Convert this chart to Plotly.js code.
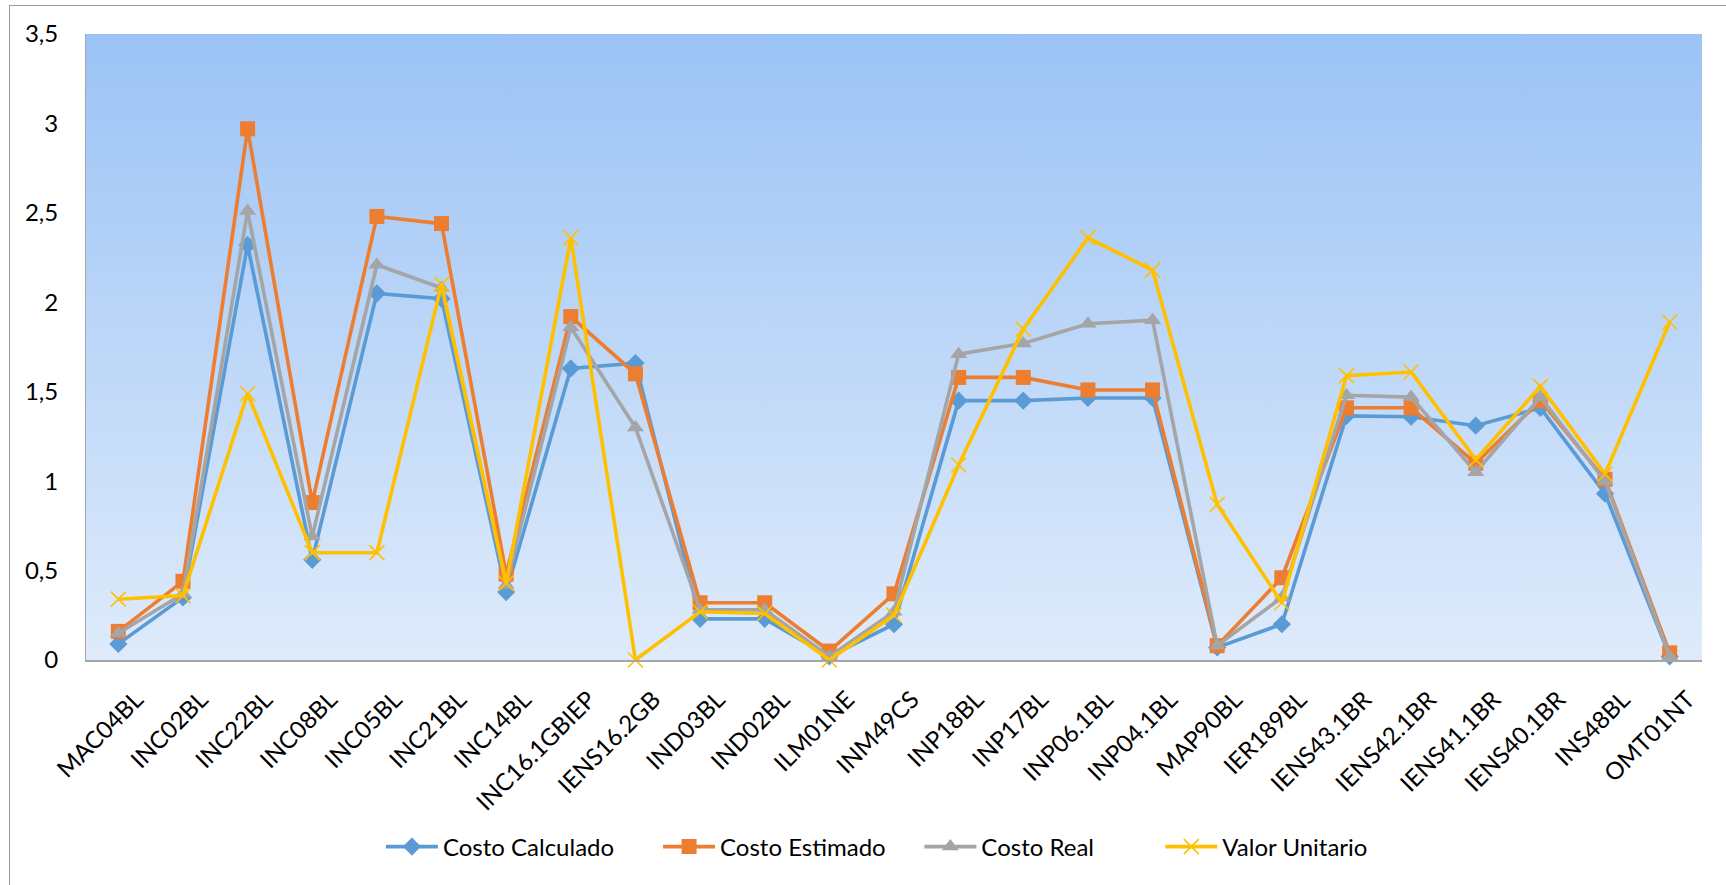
<!DOCTYPE html>
<html>
<head>
<meta charset="utf-8">
<script src="https://cdn.plot.ly/plotly-3.0.1.min.js"></script>
<style>
  html, body { margin: 0; padding: 0; background: #fff; overflow: hidden; }
  #frame { position: absolute; left: 9px; top: 5px; width: 1760px; height: 920px; border: 1px solid #9a9a9a; box-sizing: border-box; }
  #chart { position: absolute; left: 0; top: 0; width: 1726px; height: 885px; }
</style>
</head>
<body>
<div id="frame"></div>
<div id="chart"></div>
<script>
const categories = ["MAC04BL","INC02BL","INC22BL","INC08BL","INC05BL","INC21BL","INC14BL","INC16.1GBIEP","IENS16.2GB","IND03BL","IND02BL","ILM01NE","INM49CS","INP18BL","INP17BL","INP06.1BL","INP04.1BL","MAP90BL","IER189BL","IENS43.1BR","IENS42.1BR","IENS41.1BR","IENS40.1BR","INS48BL","OMT01NT"];

const costoCalculado = [0.09,0.35,2.32,0.56,2.05,2.02,0.38,1.63,1.66,0.23,0.23,0.02,0.20,1.45,1.45,1.465,1.465,0.07,0.20,1.365,1.36,1.31,1.41,0.93,0.02];
const costoEstimado  = [0.16,0.44,2.97,0.88,2.48,2.44,0.48,1.92,1.60,0.32,0.32,0.05,0.37,1.58,1.58,1.51,1.51,0.08,0.46,1.41,1.41,1.10,1.45,1.01,0.04];
const costoReal      = [0.15,0.37,2.51,0.69,2.21,2.08,0.42,1.86,1.30,0.28,0.28,0.02,0.27,1.71,1.77,1.88,1.90,0.08,0.35,1.48,1.47,1.05,1.47,1.00,0.02];
const valorUnitario  = [0.34,0.36,1.49,0.60,0.60,2.10,0.43,2.36,0.00,0.27,0.26,0.00,0.25,1.09,1.85,2.36,2.18,0.87,0.32,1.59,1.61,1.12,1.53,1.04,1.89];

const seriesNames = ["Costo Calculado","Costo Estimado","Costo Real","Valor Unitario"];
const yTickVals = [0,0.5,1,1.5,2,2.5,3,3.5];

const FONT = "Lato, 'Liberation Sans', sans-serif";

function tr(name, y, color, symbol, size, legendId, mline) {
  return {
    type: 'scatter', mode: 'lines+markers', name: name,
    x: categories, y: y, legend: legendId,
    line: {color: color, width: 3.6},
    marker: {symbol: symbol, size: size, color: color, line: mline || {width: 0}},
    cliponaxis: false
  };
}

const data = [
  tr(seriesNames[0], costoCalculado, '#5B9BD5', 'diamond', 14, 'legend'),
  tr(seriesNames[1], costoEstimado, '#ED7D31', 'square', 15, 'legend2'),
  tr(seriesNames[2], costoReal, '#A5A5A5', 'triangle-up', 15, 'legend3'),
  tr(seriesNames[3], valorUnitario, '#FFC000', 'x-thin', 15, 'legend4', {color: '#FFC000', width: 1.6})
];

const svg = "<svg xmlns='http://www.w3.org/2000/svg' width='100' height='100' preserveAspectRatio='none'>" +
  "<defs><linearGradient id='g' x1='0' y1='0' x2='0' y2='1'>" +
  "<stop offset='0' stop-color='#9BC3F5'/><stop offset='1' stop-color='#DFEBFB'/>" +
  "</linearGradient></defs><rect width='100' height='100' fill='url(#g)'/></svg>";

function leg(x) {
  return {
    orientation: 'h', x: x, xanchor: 'left', y: -0.2987, yanchor: 'middle',
    font: {family: FONT, size: 24, color: '#000'},
    itemwidth: 52, bgcolor: 'rgba(0,0,0,0)', borderwidth: 0
  };
}

const layout = {
  width: 1726, height: 885,
  margin: {l: 86, r: 24, t: 34, b: 225},
  paper_bgcolor: 'rgba(0,0,0,0)',
  plot_bgcolor: 'rgba(0,0,0,0)',
  separators: ',.',
  font: {family: FONT, size: 24, color: '#000'},
  showlegend: true,
  legend: leg(0.1825),
  legend2: leg(0.354),
  legend3: leg(0.5157),
  legend4: leg(0.6648),
  images: [{
    source: 'data:image/svg+xml;charset=utf-8,' + encodeURIComponent(svg),
    xref: 'paper', yref: 'paper', x: 0, y: 1, sizex: 1, sizey: 1,
    sizing: 'stretch', layer: 'below', xanchor: 'left', yanchor: 'top'
  }],
  xaxis: {
    type: 'category', tickangle: -45, range: [-0.5, categories.length - 0.5],
    showgrid: false, zeroline: false,
    showline: true, linecolor: '#A6A6A6', linewidth: 2,
    ticks: '', ticklabelshift: 18, ticklabelstandoff: 14,
    tickfont: {family: FONT, size: 24, color: '#000'},
    fixedrange: true
  },
  yaxis: {
    range: [0, 3.5], tickvals: yTickVals,
    showgrid: false, zeroline: false,
    showline: true, linecolor: '#A6A6A6', linewidth: 1,
    ticks: 'outside', ticklen: 22, tickcolor: 'rgba(0,0,0,0)',
    tickfont: {family: FONT, size: 24, color: '#000'},
    fixedrange: true
  }
};

Plotly.newPlot('chart', data, layout, {displayModeBar: false, staticPlot: true});
</script>
</body>
</html>
